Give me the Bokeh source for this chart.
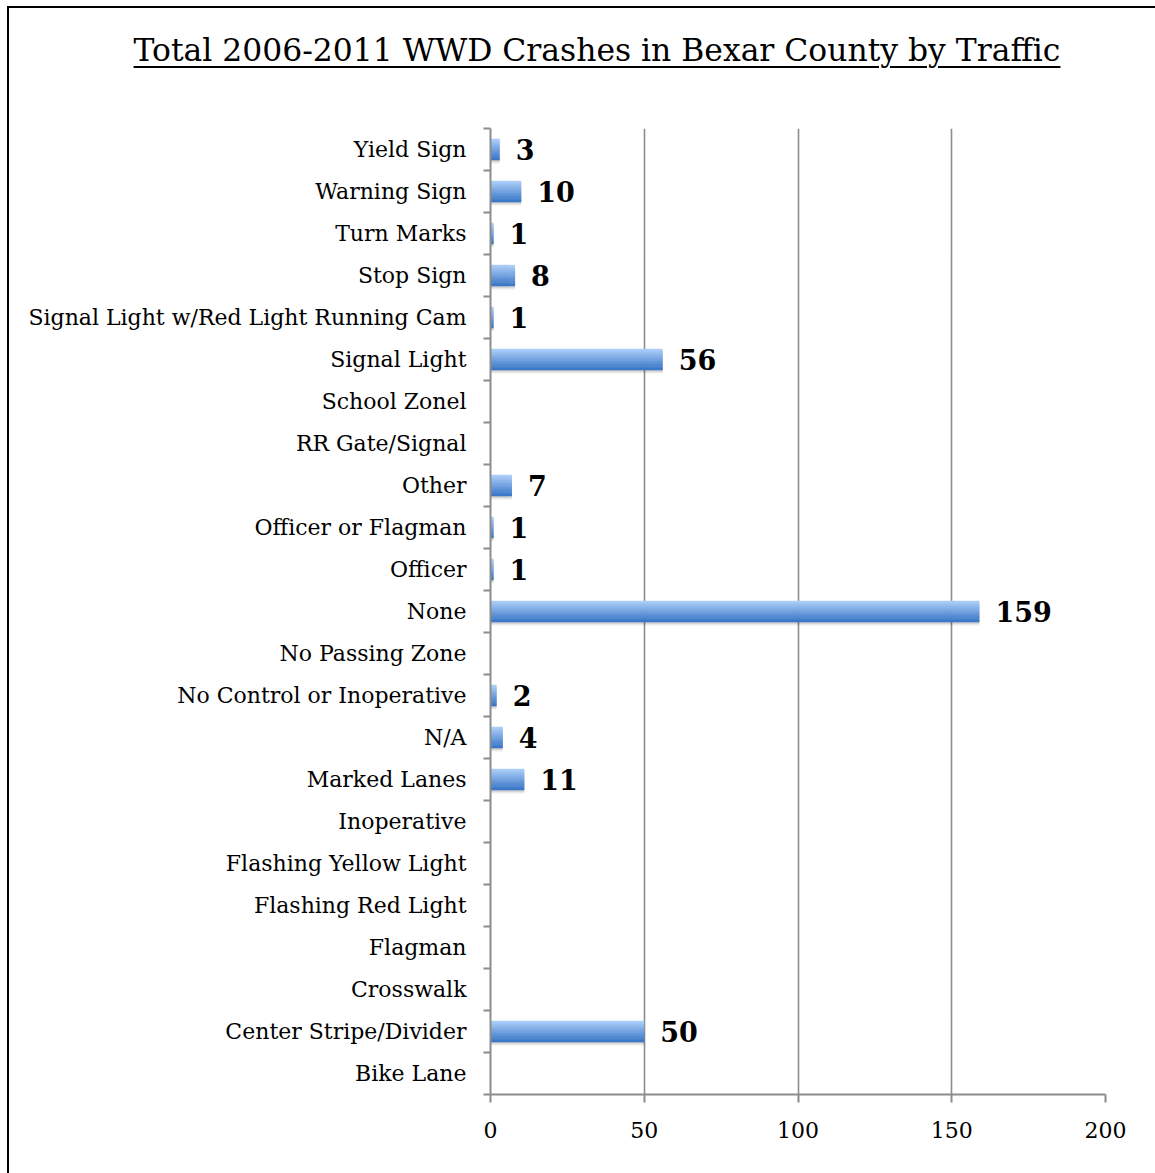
from bokeh.plotting import figure
from bokeh.models import FixedTicker, Range1d, Div
from bokeh.layouts import column
from bokeh.embed import file_html
from bokeh.resources import INLINE
from bokeh.core.properties import value

# ---- data (bottom to top) ----
categories = [
    "Bike Lane", "Center Stripe/Divider", "Crosswalk", "Flagman",
    "Flashing Red Light", "Flashing Yellow Light", "Inoperative",
    "Marked Lanes", "N/A", "No Control or Inoperative", "No Passing Zone",
    "None", "Officer", "Officer or Flagman", "Other", "RR Gate/Signal",
    "School Zonel", "Signal Light", "Signal Light w/Red Light Running Cam",
    "Stop Sign", "Turn Marks", "Warning Sign", "Yield Sign",
]
crashes = [0, 50, 0, 0, 0, 0, 0, 11, 4, 2, 0, 159, 1, 1, 7, 0, 0, 56, 1, 8, 1, 10, 3]
x_ticks = [0, 50, 100, 150, 200]
title_text = "Total 2006-2011 WWD Crashes in Bexar County by Traffic"

SERIF = "DejaVu Serif"
W, H = 1155, 1173
X0, Y0 = 9, 8          # inner origin after the outer border
FL, FR, FT, FB = 490, 1105, 128, 1094  # frame edges on the page
PTOP = 118             # page y where the figure starts

n = len(categories)
idx = list(range(n))

fig_w = W - X0
fig_h = H - PTOP
p = figure(width=fig_w, height=fig_h, output_backend="svg", toolbar_location=None,
           x_range=Range1d(0, 200), y_range=Range1d(-0.5, n - 0.5),
           min_border_left=FL - X0, min_border_right=fig_w - (FR - X0),
           min_border_top=FT - PTOP, min_border_bottom=H - FB)
p.outline_line_color = None
p.background_fill_color = "white"
p.border_fill_color = "white"

# grid
p.ygrid.grid_line_color = None
p.xgrid.ticker = FixedTicker(ticks=x_ticks)
p.xgrid.grid_line_color = "#8c8c8c"
p.xgrid.grid_line_width = 1.6

# x axis
xa = p.xaxis[0]
xa.ticker = FixedTicker(ticks=x_ticks)
xa.axis_line_color = "#8c8c8c"
xa.axis_line_width = 2
xa.major_tick_line_color = "#8c8c8c"
xa.major_tick_line_width = 2
xa.major_tick_in = 0
xa.major_tick_out = 8
xa.minor_tick_line_color = None
xa.major_label_text_font = SERIF
xa.major_label_text_font_size = "22px"
xa.major_label_text_color = "black"
xa.major_label_standoff = 19

# y axis: labels at centres, ticks at category boundaries
ya = p.yaxis[0]
ya.ticker = FixedTicker(ticks=idx, minor_ticks=[i - 0.5 for i in range(n + 1)])
ya.major_label_overrides = {i: c for i, c in zip(idx, categories)}
ya.axis_line_color = "#8c8c8c"
ya.axis_line_width = 2
ya.major_tick_line_color = None
ya.major_tick_in = 0
ya.major_tick_out = 0
ya.minor_tick_line_color = "#8c8c8c"
ya.minor_tick_line_width = 2
ya.minor_tick_in = 0
ya.minor_tick_out = 7
ya.major_label_text_font = SERIF
ya.major_label_text_font_size = "22px"
ya.major_label_text_color = "black"
ya.major_label_standoff = 17

# bars: soft shadow + vertical gradient built from thin strips
bar_h = 0.5
for dy, a in [(-0.09, 0.05), (-0.06, 0.07), (-0.035, 0.09)]:
    p.hbar(y=[i + dy for i in idx], right=crashes, left=0, height=bar_h,
           fill_color="black", fill_alpha=a, line_color=None)

top_c = (0xab, 0xcd, 0xf8)
bot_c = (0x3c, 0x78, 0xc8)
N = 12
strip = bar_h / N
for s in range(N):
    t = s / (N - 1)
    c = tuple(int(round(top_c[j] + (bot_c[j] - top_c[j]) * t)) for j in range(3))
    col = "#%02x%02x%02x" % c
    yc = [i + bar_h / 2 - strip * (s + 0.5) for i in idx]
    p.hbar(y=yc, right=crashes, left=0, height=strip * 1.15,
           fill_color=col, line_color=None)

# value labels (non-zero only)
lab_y = [i for i, v in zip(idx, crashes) if v > 0]
lab_v = [v for v in crashes if v > 0]
p.text(x=lab_v, y=lab_y, text=[str(v) for v in lab_v], x_offset=16, y_offset=0,
       text_font=value(SERIF), text_font_size="27px", text_font_style="bold",
       text_baseline="middle", text_align="left", text_color="black")

title = Div(
    text=(f'<div style="box-sizing:border-box; width:{fig_w}px; '
          f'font-family:\'{SERIF}\'; font-size:31.4px; line-height:40px; '
          f'color:black; text-align:center; padding-left:30px; padding-top:22px; '
          f'text-decoration:underline; text-decoration-thickness:2px; '
          f'text-underline-offset:5px; white-space:nowrap;">{title_text}</div>'),
    width=fig_w, height=PTOP - Y0, margin=0,
    styles={"background-color": "white"})

p.margin = 0
layout = column(title, p, margin=(Y0 - 2, 0, 0, X0 - 2), spacing=0,
                styles={"border-left": "2px solid black", "border-top": "2px solid black",
                        "background-color": "white"})

open("out.html", "w").write(file_html(layout, INLINE))
